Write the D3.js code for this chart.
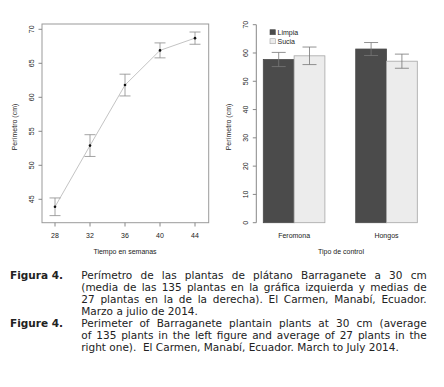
<!DOCTYPE html>
<html>
<head>
<meta charset="utf-8">
<script src="https://cdn.jsdelivr.net/npm/d3@7"></script>
<style>
  body { margin: 0; background: #fff; }
  svg { display: block; }
  .tick-label, .axis-title, .legend-text { font-family: "Liberation Sans", Arial, sans-serif; fill: #222; }
  .cap { font-family: "DejaVu Sans", Verdana, sans-serif; fill: #222; }
</style>
</head>
<body>
<div id="chart"></div>
<script>
// left panel: perimeter over time
var weeks = [28, 32, 36, 40, 44];
var weekMeans = [43.9, 52.9, 61.8, 66.9, 68.7];
var weekErr = [1.3, 1.6, 1.6, 1.1, 0.9];
var leftTicks = [45, 50, 55, 60, 65, 70];

// right panel: perimeter by control type
var controls = ["Feromona", "Hongos"];
var groups = ["Limpia", "Sucia"];
var limpiaMeans = [57.7, 61.4];
var limpiaErr = [2.5, 2.3];
var suciaMeans = [59.0, 57.1];
var suciaErr = [3.1, 2.5];
var rightTicks = [0, 10, 20, 30, 40, 50, 60, 70];

var captionEs = [
  "Perímetro de las plantas de plátano Barraganete a 30 cm",
  "(media de las 135 plantas en la gráfica izquierda y medias de",
  "27 plantas en la de la derecha). El Carmen, Manabí, Ecuador.",
  "Marzo a julio de 2014."
];
var captionEn = [
  "Perimeter of Barraganete plantain plants at 30 cm (average",
  "of 135 plants in the left figure and average of 27 plants in the",
  "right one).  El Carmen, Manabí, Ecuador. March to July 2014."
];

var width = 444, height = 387;
var svg = d3.select("#chart").append("svg")
  .attr("width", width)
  .attr("height", height);

// ---------- left panel ----------
var xL = d3.scaleLinear().domain([28, 44]).range([55, 195]);
var yL = d3.scaleLinear().domain([45, 70]).range([199.3, 29.3]);

var left = svg.append("g");
left.append("rect")
  .attr("x", 42).attr("y", 24).attr("width", 166.7).attr("height", 198.7)
  .attr("fill", "none").attr("stroke", "#9a9a9a").attr("stroke-width", 1);

left.selectAll(".ytick").data(leftTicks).enter().append("line")
  .attr("x1", 38.5).attr("x2", 42)
  .attr("y1", function (d) { return yL(d); })
  .attr("y2", function (d) { return yL(d); })
  .attr("stroke", "#888");
left.selectAll(".ylab").data(leftTicks).enter().append("text")
  .attr("class", "tick-label")
  .attr("font-size", 7)
  .attr("text-anchor", "middle")
  .attr("transform", function (d) { return "translate(34," + yL(d) + ") rotate(-90)"; })
  .text(function (d) { return d; });

left.selectAll(".xtick").data(weeks).enter().append("line")
  .attr("x1", function (d) { return xL(d); })
  .attr("x2", function (d) { return xL(d); })
  .attr("y1", 222.7).attr("y2", 226.5)
  .attr("stroke", "#888");
left.selectAll(".xlab").data(weeks).enter().append("text")
  .attr("class", "tick-label")
  .attr("font-size", 7)
  .attr("text-anchor", "middle")
  .attr("x", function (d) { return xL(d); })
  .attr("y", 238)
  .text(function (d) { return d; });

left.append("text").attr("class", "axis-title").attr("font-size", 7)
  .attr("text-anchor", "middle").attr("x", 125).attr("y", 253.5)
  .text("Tiempo en semanas");
left.append("text").attr("class", "axis-title").attr("font-size", 7)
  .attr("text-anchor", "middle")
  .attr("transform", "translate(17,127) rotate(-90)")
  .text("Perímetro (cm)");

var line = d3.line()
  .x(function (d, i) { return xL(weeks[i]); })
  .y(function (d) { return yL(d); });
left.append("path").datum(weekMeans)
  .attr("d", line).attr("fill", "none")
  .attr("stroke", "#c4c4c4").attr("stroke-width", 1);

weekMeans.forEach(function (m, i) {
  var cx = xL(weeks[i]);
  var e = left.append("g").attr("stroke", "#8c8c8c").attr("stroke-width", 0.8);
  e.append("line").attr("x1", cx).attr("x2", cx)
    .attr("y1", yL(m - weekErr[i])).attr("y2", yL(m + weekErr[i]));
  e.append("line").attr("x1", cx - 5.5).attr("x2", cx + 5.5)
    .attr("y1", yL(m - weekErr[i])).attr("y2", yL(m - weekErr[i]));
  e.append("line").attr("x1", cx - 5.5).attr("x2", cx + 5.5)
    .attr("y1", yL(m + weekErr[i])).attr("y2", yL(m + weekErr[i]));
  left.append("circle").attr("cx", cx).attr("cy", yL(m)).attr("r", 1.3).attr("fill", "#111");
});

// ---------- right panel ----------
var xR = d3.scaleLinear().domain([1, 6]).range([263.3, 417.3]);
var yR = d3.scaleLinear().domain([0, 70]).range([222.7, 24.7]);
var right = svg.append("g");

right.append("line").attr("x1", 256.3).attr("x2", 256.3)
  .attr("y1", yR(0)).attr("y2", yR(70)).attr("stroke", "#888");
right.selectAll(".ytick").data(rightTicks).enter().append("line")
  .attr("x1", 252.8).attr("x2", 256.3)
  .attr("y1", function (d) { return yR(d); })
  .attr("y2", function (d) { return yR(d); })
  .attr("stroke", "#888");
right.selectAll(".ylab").data(rightTicks).enter().append("text")
  .attr("class", "tick-label")
  .attr("font-size", 7)
  .attr("text-anchor", "middle")
  .attr("transform", function (d) { return "translate(248," + yR(d) + ") rotate(-90)"; })
  .text(function (d) { return d; });

var bars = [];
controls.forEach(function (c, i) {
  var base = 1 + i * 3;
  bars.push({ x0: base, v: limpiaMeans[i], e: limpiaErr[i], fill: "#4b4b4b", stroke: "#4b4b4b" });
  bars.push({ x0: base + 1, v: suciaMeans[i], e: suciaErr[i], fill: "#ececec", stroke: "#a6a6a6" });
});

right.selectAll(".bar").data(bars).enter().append("rect")
  .attr("x", function (d) { return xR(d.x0); })
  .attr("width", function (d) { return xR(d.x0 + 1) - xR(d.x0); })
  .attr("y", function (d) { return yR(d.v); })
  .attr("height", function (d) { return yR(0) - yR(d.v); })
  .attr("fill", function (d) { return d.fill; })
  .attr("stroke", function (d) { return d.stroke; })
  .attr("stroke-width", 0.8);

bars.forEach(function (d) {
  var cx = xR(d.x0 + 0.5);
  var e = right.append("g").attr("stroke", "#777").attr("stroke-width", 0.8);
  e.append("line").attr("x1", cx).attr("x2", cx)
    .attr("y1", yR(d.v - d.e)).attr("y2", yR(d.v + d.e));
  e.append("line").attr("x1", cx - 7).attr("x2", cx + 7)
    .attr("y1", yR(d.v - d.e)).attr("y2", yR(d.v - d.e));
  e.append("line").attr("x1", cx - 7).attr("x2", cx + 7)
    .attr("y1", yR(d.v + d.e)).attr("y2", yR(d.v + d.e));
});

right.selectAll(".xlab").data(controls).enter().append("text")
  .attr("class", "tick-label")
  .attr("font-size", 7)
  .attr("text-anchor", "middle")
  .attr("x", function (d, i) { return xR(2 + i * 3); })
  .attr("y", 238)
  .text(function (d) { return d; });

right.append("text").attr("class", "axis-title").attr("font-size", 7)
  .attr("text-anchor", "middle").attr("x", 341).attr("y", 253.5)
  .text("Tipo de control");
right.append("text").attr("class", "axis-title").attr("font-size", 7)
  .attr("text-anchor", "middle")
  .attr("transform", "translate(231,127) rotate(-90)")
  .text("Perímetro (cm)");

var legendFill = ["#4b4b4b", "#ececec"];
var legendStroke = ["#4b4b4b", "#a6a6a6"];
groups.forEach(function (g, i) {
  var y = 29.7 + i * 9;
  right.append("rect").attr("x", 270).attr("y", y).attr("width", 5.3).attr("height", 5)
    .attr("fill", legendFill[i]).attr("stroke", legendStroke[i]).attr("stroke-width", 0.6);
  right.append("text").attr("class", "legend-text").attr("font-size", 7)
    .attr("x", 277.5).attr("y", y + 5).text(g);
});

// ---------- caption ----------
var capLeft = 81.3, capRight = 426.7, capSize = 10.5;

function captionLine(str, y, justify) {
  var t = svg.append("text").attr("class", "cap").attr("font-size", capSize).attr("y", y);
  var words = str.split(" ");
  var spans = words.map(function (w) {
    return t.append("tspan").text(w);
  });
  var widths = spans.map(function (s) { return s.node().getComputedTextLength(); });
  var total = d3.sum(widths);
  var space = capSize * 0.318;
  if (justify && words.length > 1) {
    space = (capRight - capLeft - total) / (words.length - 1);
  }
  var x = capLeft;
  spans.forEach(function (s, i) {
    s.attr("x", x);
    x += widths[i] + space;
  });
}

svg.append("text").attr("class", "cap").attr("font-size", capSize)
  .attr("font-weight", "bold").attr("x", 10).attr("y", 279).text("Figura 4.");
captionEs.forEach(function (l, i) {
  captionLine(l, 279 + i * 12, i < captionEs.length - 1);
});
svg.append("text").attr("class", "cap").attr("font-size", capSize)
  .attr("font-weight", "bold").attr("x", 10).attr("y", 327).text("Figure 4.");
captionEn.forEach(function (l, i) {
  captionLine(l, 327 + i * 12, i < captionEn.length - 1);
});
</script>
</body>
</html>
